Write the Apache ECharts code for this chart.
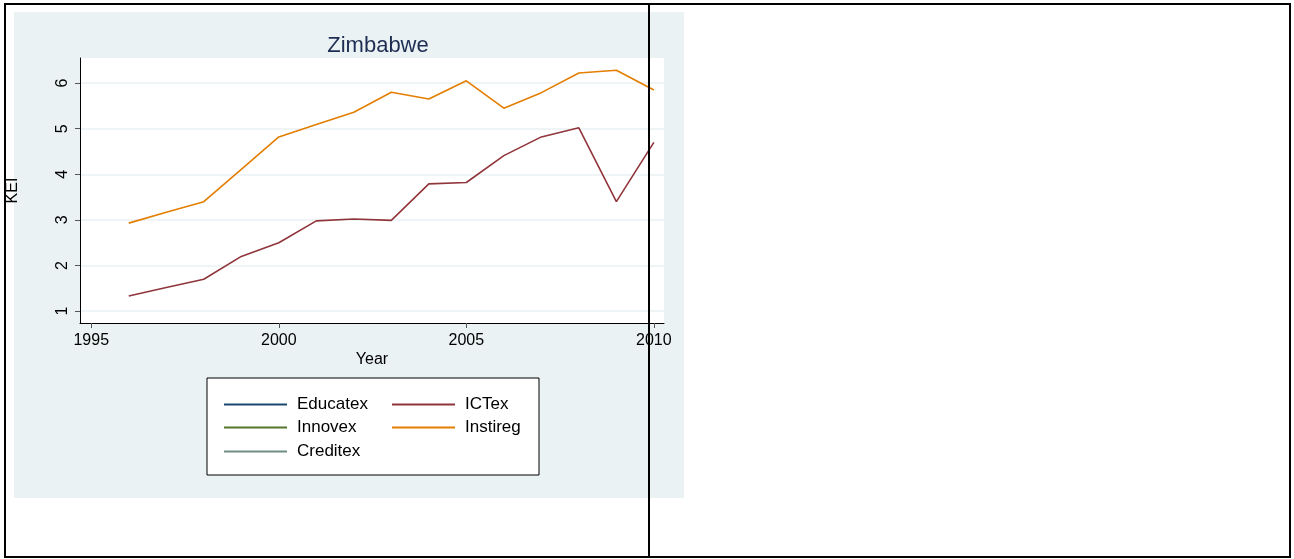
<!DOCTYPE html>
<html>
<head>
<meta charset="utf-8">
<script src="https://cdn.jsdelivr.net/npm/echarts@6/dist/echarts.min.js"></script>
<style>
html,body{margin:0;padding:0;background:#fff;}
#c{width:1294px;height:559px;}
</style>
</head>
<body>
<div id="c"></div>
<script>
const years = [1996,1997,1998,1999,2000,2001,2002,2003,2004,2005,2006,2007,2008,2009,2010];
const ictex = [1.33,1.52,1.70,2.20,2.50,2.98,3.02,2.99,3.79,3.82,4.41,4.82,5.02,3.40,4.70];
const instireg = [2.93,3.17,3.40,4.11,4.82,5.09,5.36,5.80,5.65,6.05,5.45,5.79,6.22,6.28,5.85];
const educatex = [];
const innovex = [];
const creditex = [];
const xTicks = [1995,2000,2005,2010];
const yTicks = [1,2,3,4,5,6];
const seriesNames = ['Educatex','ICTex','Innovex','Instireg','Creditex'];
const seriesColors = ['#1A476F','#90353B','#55752F','#E37E00','#6E8E84'];
const seriesData = [educatex, ictex, innovex, instireg, creditex];

const FONT = '"Liberation Sans", Arial, sans-serif';
const chart = echarts.init(document.getElementById('c'), null, {renderer:'canvas'});

const series = seriesNames.map((n,i)=>({
  name:n, type:'line', color:seriesColors[i], showSymbol:false, symbol:'none',
  lineStyle:{width:1.6, color:seriesColors[i]},
  data: seriesData[i].map((v,k)=>[years[k], v]),
  animation:false
}));

const legendPos = [[224,396],[392,396],[224,419],[392,419],[224,443]];
const legends = seriesNames.map((n,i)=>({
  data:[n], left:legendPos[i][0], top:legendPos[i][1], z:10,
  icon:'rect', itemWidth:63, itemHeight:2, padding:0,
  textStyle:{fontFamily:FONT, fontSize:17, color:'#000', padding:[1,0,0,5]},
  selectedMode:false
}));

chart.setOption({
  backgroundColor:'#fff',
  animation:false,
  title:{text:'Zimbabwe', left:373, top:30, textAlign:'center',
    textStyle:{fontFamily:FONT, fontSize:22, fontWeight:'normal', color:'#1E2D53'}},
  legend: legends,
  grid:{left:80, right:630, top:58, bottom:236, show:true, backgroundColor:'#fff', borderWidth:0},
  xAxis:{type:'value', min:1994.7, max:2010.27,
    name:'Year', nameLocation:'middle', nameGap:29,
    nameTextStyle:{fontFamily:FONT, fontSize:16, color:'#000'},
    axisLine:{show:true, onZero:false, lineStyle:{color:'#000', width:1}},
    axisTick:{show:true, length:5, lineStyle:{color:'#555'}, customValues:xTicks},
    axisLabel:{fontFamily:FONT, fontSize:16, color:'#000', margin:10, customValues:xTicks,
      formatter:v=>String(v)},
    splitLine:{show:false}},
  yAxis:{type:'value', min:0.74, max:6.55,
    name:'KEI', nameLocation:'middle', nameGap:59, nameRotate:90,
    nameTextStyle:{fontFamily:FONT, fontSize:16, color:'#000'},
    axisLine:{show:true, onZero:false, lineStyle:{color:'#000', width:1}},
    axisTick:{show:true, length:5, lineStyle:{color:'#555'}, customValues:yTicks},
    axisLabel:{fontFamily:FONT, fontSize:16, color:'#000', rotate:90, margin:9, customValues:yTicks,
      formatter:v=>String(v)},
    splitLine:{show:true, lineStyle:{color:'#EAF2F3', width:1.5}}},
  graphic:[
    {type:'rect', z:-100, shape:{x:14,y:12,width:670,height:486}, style:{fill:'#EAF2F3'}},
    {type:'rect', z:-50, shape:{x:207,y:378,width:332,height:97}, style:{fill:'#fff', stroke:'#000', lineWidth:1}},
    {type:'rect', z:100, shape:{x:5,y:4,width:1285,height:553}, style:{fill:null, stroke:'#000', lineWidth:2}},
    {type:'line', z:100, shape:{x1:649,y1:4,x2:649,y2:557}, style:{stroke:'#000', lineWidth:2}}
  ],
  series: series
});
</script>
</body>
</html>
